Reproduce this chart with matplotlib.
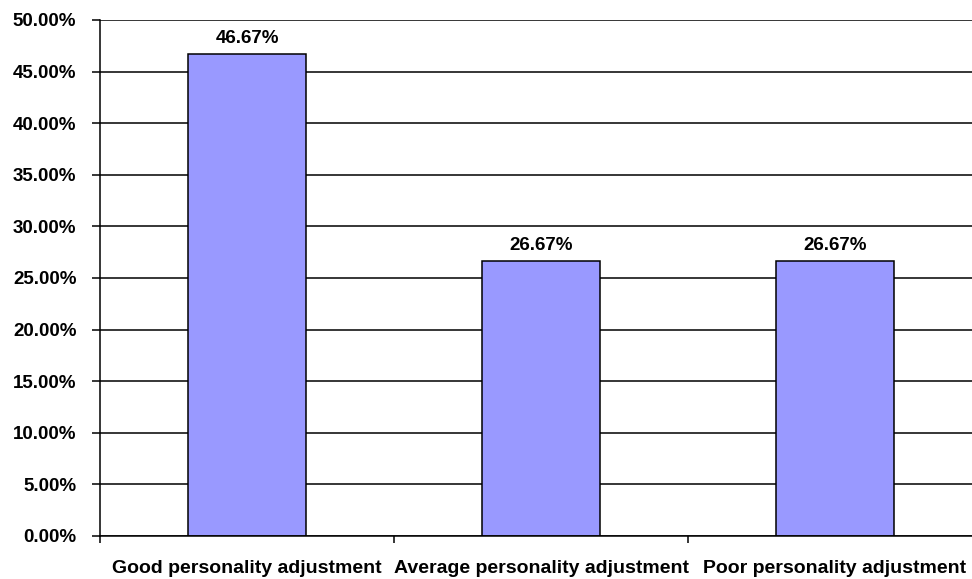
import matplotlib.pyplot as plt
from matplotlib.ticker import PercentFormatter

categories = ['Good personality adjustment', 'Average personality adjustment', 'Poor personality adjustment']
values = [46.67, 26.67, 26.67]
yticks = [0, 5, 10, 15, 20, 25, 30, 35, 40, 45, 50]

plt.rcParams['font.family'] = 'Liberation Sans'
plt.rcParams['font.weight'] = 'bold'

fig = plt.figure(figsize=(9.72, 5.79), dpi=100)
# the plot area runs a little past the right edge, as in the original
ax = fig.add_axes([100 / 972, 43 / 579, 882 / 972, 516 / 579])

ax.set_axisbelow(True)
ax.yaxis.grid(True, color='black', linewidth=1.1)
bars = ax.bar(range(3), values, width=0.4, color='#9999FF', edgecolor='black', linewidth=1.1)

for b, v in zip(bars, values):
    ax.annotate(f'{v:.2f}%', (b.get_x() + b.get_width() / 2, v), xytext=(0, 5),
                textcoords='offset points', ha='center', va='bottom',
                fontsize=13.5, fontweight='bold')

ax.set_xlim(-0.5, 2.5)
ax.set_ylim(0, 50)
ax.set_yticks(yticks)
ax.yaxis.set_major_formatter(PercentFormatter(decimals=2))
ax.set_xticks([-0.5, 0.5, 1.5])
ax.set_xticklabels([])
ax.set_xticks(range(3), minor=True)
ax.set_xticklabels(categories, minor=True)

ax.tick_params(axis='y', length=6, width=1.1, pad=11, labelsize=13.5)
ax.tick_params(axis='x', which='major', length=5, width=1.1, direction='out')
ax.tick_params(axis='x', which='minor', length=0, pad=17, labelsize=14)

for s in ['top', 'right']:
    ax.spines[s].set_visible(False)
ax.spines['left'].set_linewidth(1.1)
ax.spines['bottom'].set_linewidth(1.1)

fig.savefig('out.png', dpi=100)
